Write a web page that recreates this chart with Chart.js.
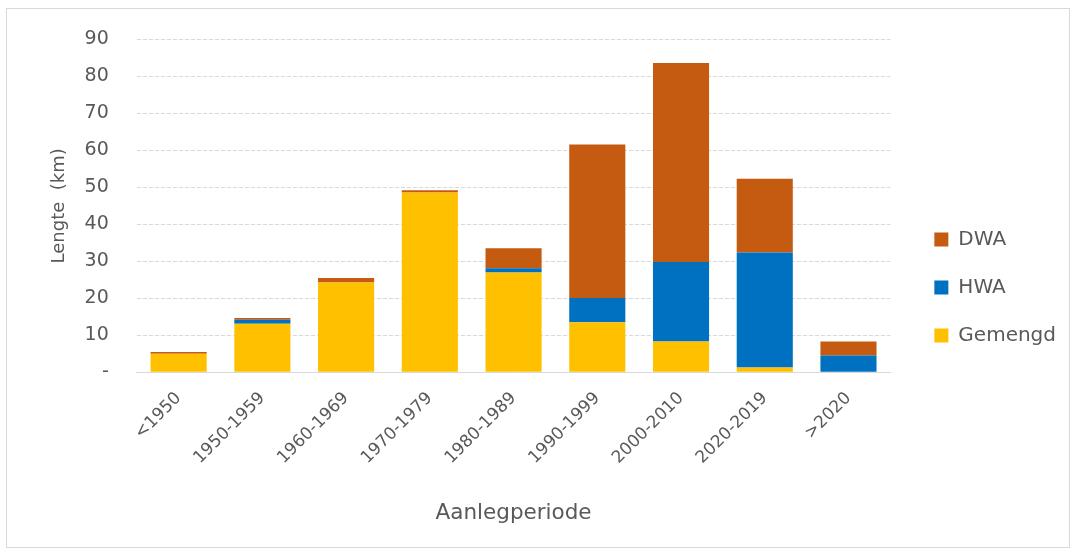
<!DOCTYPE html>
<html>
<head>
<meta charset="utf-8">
<script src="https://cdn.jsdelivr.net/npm/chart.js@4/dist/chart.umd.min.js"></script>
<style>
  body { margin: 0; background: #fff; }
  #wrap { position: relative; width: 1076px; height: 554px; }
  #frame { position: absolute; left: 6px; top: 8px; width: 1062px; height: 538px; border: 1px solid #d9d9d9; pointer-events: none; }
</style>
</head>
<body>
<div id="wrap">
  <canvas id="chart" width="1076" height="554"></canvas>
  <div id="frame"></div>
</div>
<script>
// categorieën (aanlegperiode)
const perioden = ['<1950', '1950-1959', '1960-1969', '1970-1979', '1980-1989', '1990-1999', '2000-2010', '2020-2019', '>2020'];

// lengte in km per type
const gemengd = [5.0, 13.1, 24.3, 48.6, 27.0, 13.5, 8.3, 1.3, 0];
const hwa     = [0,   1.1,  0,    0,    1.1,  6.6, 21.5, 31.1, 4.5];
const dwa     = [0.5, 0.5,  1.2,  0.6,  5.4, 41.5, 53.8, 19.9, 3.8];

const yTicks = [0, 10, 20, 30, 40, 50, 60, 70, 80, 90];

const tekst = '#595959';
const font = 'DejaVu Sans';

const ctx = document.getElementById('chart').getContext('2d');
new Chart(ctx, {
  type: 'bar',
  data: {
    labels: perioden,
    datasets: [
      { label: 'Gemengd', data: gemengd, backgroundColor: '#FFC000' },
      { label: 'HWA',     data: hwa,     backgroundColor: '#0070C0' },
      { label: 'DWA',     data: dwa,     backgroundColor: '#C55A11' }
    ]
  },
  options: {
    responsive: false,
    animation: false,
    layout: { padding: { left: 41, right: 10, top: 31, bottom: 10 } },
    datasets: { bar: { categoryPercentage: 1, barPercentage: 0.67 } },
    scales: {
      x: {
        stacked: true,
        grid: { display: false },
        border: { color: '#d9d9d9' },
        ticks: { color: tekst, font: { family: font, size: 17 }, maxRotation: 45, minRotation: 45, padding: 8 },
        title: { display: true, text: 'Aanlegperiode', color: tekst, font: { family: font, size: 21.5 }, padding: { top: 24, bottom: 18 } }
      },
      y: {
        stacked: true,
        min: 0,
        max: 90,
        afterBuildTicks: axis => { axis.ticks = yTicks.map(v => ({ value: v })); },
        grid: { color: '#d9d9d9', drawTicks: false },
        border: { display: false, dash: [4, 2] },
        ticks: {
          color: tekst, font: { family: font, size: 19 }, padding: 28,
          callback: v => v === 0 ? '-' : v
        },
        title: { display: true, text: 'Lengte  (km)', color: tekst, font: { family: font, size: 18 }, padding: { top: 8, bottom: -14 } }
      },
      // lege ruimte tussen plot en legenda
      rechts: {
        type: 'linear',
        position: 'right',
        grid: { display: false },
        border: { display: false },
        ticks: { display: false },
        afterFit: s => { s.width = 16; }
      }
    },
    plugins: {
      legend: {
        position: 'right',
        reverse: true,
        labels: { color: tekst, font: { family: font, size: 20 }, boxWidth: 14, boxHeight: 14, padding: 28 }
      },
      tooltip: { enabled: false }
    }
  }
});
</script>
</body>
</html>
